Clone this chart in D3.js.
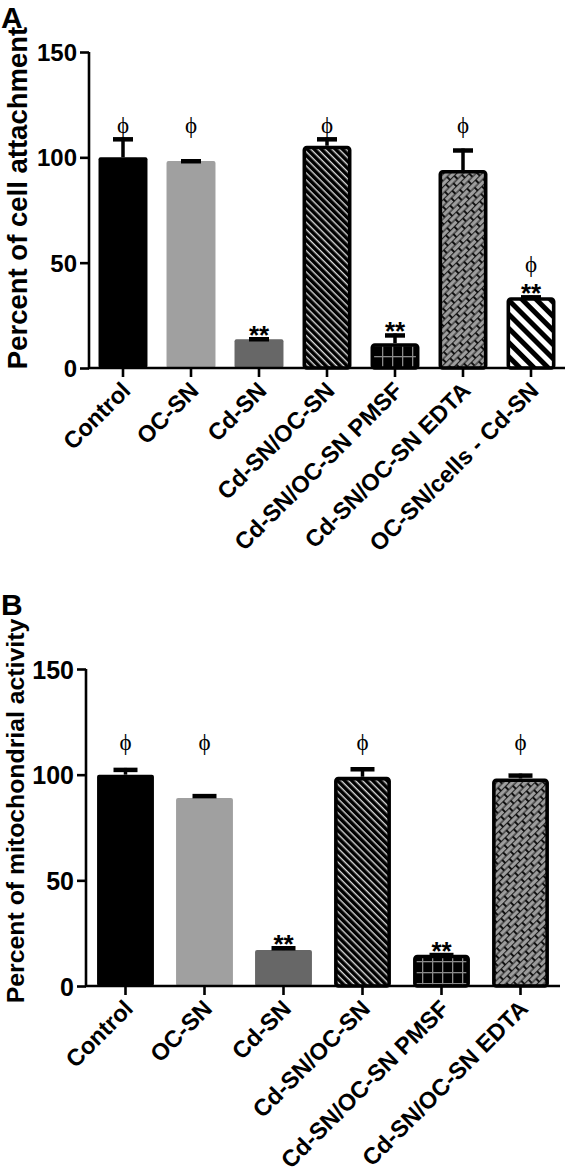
<!DOCTYPE html>
<html>
<head>
<meta charset="utf-8">
<script src="https://cdn.jsdelivr.net/npm/d3@7"></script>
<style>
  html, body { margin: 0; padding: 0; background: #fff; }
  svg { display: block; }
  text { font-family: "Liberation Sans", Arial, sans-serif; }
</style>
</head>
<body>
<svg id="chart" width="566" height="1173"></svg>
<script>
// ---------- data ----------
const categoriesA = ["Control", "OC-SN", "Cd-SN", "Cd-SN/OC-SN", "Cd-SN/OC-SN PMSF", "Cd-SN/OC-SN EDTA", "OC-SN/cells - Cd-SN"];
const valuesA = [100, 98.3, 13.6, 105.5, 11.8, 94, 33.6];
const errorsA = [9.5, 0.8, 1.0, 4.0, 4.6, 10.2, 0.9];
const phiA = [true, true, false, true, false, true, true];
const starsA = [false, false, true, false, true, false, true];

const categoriesB = ["Control", "OC-SN", "Cd-SN", "Cd-SN/OC-SN", "Cd-SN/OC-SN PMSF", "Cd-SN/OC-SN EDTA"];
const valuesB = [100, 89, 17, 99, 14.8, 98.2];
const errorsB = [3.2, 1.8, 1.8, 4.5, 0.8, 2.3];
const phiB = [true, true, false, true, false, true];
const starsB = [false, false, true, false, true, false];

const yTicks = [0, 50, 100, 150];
const yTitleA = "Percent of cell attachment";
const yTitleB = "Percent of mitochondrial activity";
const phiLevel = 115;

// ---------- styles ----------
const fillByCat = {
  "Control": {fill: "#000", stroke: null},
  "OC-SN": {fill: "#a0a0a0", stroke: null},
  "Cd-SN": {fill: "#676767", stroke: null},
  "Cd-SN/OC-SN": {fill: "url(#pDiag)", stroke: "#000"},
  "Cd-SN/OC-SN PMSF": {fill: "url(#pGrid)", stroke: "#000"},
  "Cd-SN/OC-SN EDTA": {fill: "url(#pBrick)", stroke: "#000"},
  "OC-SN/cells - Cd-SN": {fill: "url(#pStripe)", stroke: "#000"}
};

const svg = d3.select("#chart");
const defs = svg.append("defs");

// diagonal thin white lines on black
const pDiag = defs.append("pattern").attr("id", "pDiag").attr("patternUnits", "userSpaceOnUse")
  .attr("width", 5).attr("height", 5).attr("patternTransform", "rotate(45)");
pDiag.append("rect").attr("width", 5).attr("height", 5).attr("fill", "#000");
pDiag.append("rect").attr("y", 0).attr("width", 5).attr("height", 1.4).attr("fill", "#d8d8d8");

// grid gray lines on black
const pGrid = defs.append("pattern").attr("id", "pGrid").attr("patternUnits", "userSpaceOnUse")
  .attr("width", 10).attr("height", 11).attr("x", 2).attr("y", 4);
pGrid.append("rect").attr("width", 10).attr("height", 11).attr("fill", "#000");
pGrid.append("rect").attr("x", 0).attr("width", 1.3).attr("height", 11).attr("fill", "#8a8a8a");
pGrid.append("rect").attr("y", 0).attr("width", 10).attr("height", 1.3).attr("fill", "#8a8a8a");

// brick-like gray dashes on black
const pBrick = defs.append("pattern").attr("id", "pBrick").attr("patternUnits", "userSpaceOnUse")
  .attr("width", 12).attr("height", 9).attr("patternTransform", "rotate(-45)");
pBrick.append("rect").attr("width", 12).attr("height", 9).attr("fill", "#111");
pBrick.append("rect").attr("x", 0).attr("y", 0.6).attr("width", 10).attr("height", 3.5).attr("fill", "#9e9e9e");
pBrick.append("rect").attr("x", 6).attr("y", 5.1).attr("width", 6).attr("height", 3.5).attr("fill", "#9e9e9e");
pBrick.append("rect").attr("x", 0).attr("y", 5.1).attr("width", 4).attr("height", 3.5).attr("fill", "#9e9e9e");

// thick black stripes on white
const pStripe = defs.append("pattern").attr("id", "pStripe").attr("patternUnits", "userSpaceOnUse")
  .attr("width", 10).attr("height", 10).attr("patternTransform", "rotate(45)");
pStripe.append("rect").attr("width", 10).attr("height", 10).attr("fill", "#fff");
pStripe.append("rect").attr("y", 0).attr("width", 10).attr("height", 5).attr("fill", "#000");

function panel(cfg) {
  const g = svg.append("g");
  const x = d3.scaleBand().domain(cfg.categories).range([cfg.x0, cfg.x1])
    .paddingInner(0.28).paddingOuter(0.14);
  const y = d3.scaleLinear().domain([0, 150]).range([cfg.yBottom, cfg.yTop]);
  const data = cfg.categories.map((c, i) => ({c, v: cfg.values[i], e: cfg.errors[i], phi: cfg.phi[i], star: cfg.stars[i]}));

  // bars
  const sw = 3.6;
  g.selectAll("rect.bar").data(data).join("rect").attr("class", "bar")
    .each(function(d) {
      const st = fillByCat[d.c];
      const sel = d3.select(this);
      if (st.stroke) {
        sel.attr("x", x(d.c) + sw / 2).attr("width", x.bandwidth() - sw)
          .attr("y", y(d.v) + sw / 2).attr("height", y(0) - y(d.v) - sw / 2)
          .attr("fill", st.fill).attr("stroke", st.stroke).attr("stroke-width", sw)
          .attr("rx", 2.5);
      } else {
        sel.attr("x", x(d.c)).attr("width", x.bandwidth())
          .attr("y", y(d.v)).attr("height", y(0) - y(d.v))
          .attr("fill", st.fill).attr("rx", 2);
      }
    });

  // error bars
  const capW = cfg.capW;
  g.selectAll("line.stem").data(data).join("line").attr("class", "stem")
    .attr("x1", d => x(d.c) + x.bandwidth() / 2).attr("x2", d => x(d.c) + x.bandwidth() / 2)
    .attr("y1", d => y(d.v)).attr("y2", d => y(d.v + d.e))
    .attr("stroke", "#000").attr("stroke-width", 3.5);
  g.selectAll("line.cap").data(data).join("line").attr("class", "cap")
    .attr("x1", d => x(d.c) + x.bandwidth() / 2 - capW / 2).attr("x2", d => x(d.c) + x.bandwidth() / 2 + capW / 2)
    .attr("y1", d => y(d.v + d.e) + 2).attr("y2", d => y(d.v + d.e) + 2)
    .attr("stroke", "#000").attr("stroke-width", 4.5);

  // stars
  const starBase = d => y(d.v + d.e) + 7;
  g.selectAll("text.star").data(data.filter(d => d.star)).join("text").attr("class", "star")
    .attr("x", d => x(d.c) + x.bandwidth() / 2).attr("y", starBase)
    .attr("text-anchor", "middle").attr("font-size", 26).attr("font-weight", "bold").attr("fill", "#000")
    .text("**");
  // phi
  g.selectAll("text.phi").data(data.filter(d => d.phi)).join("text").attr("class", "phi")
    .attr("x", d => x(d.c) + x.bandwidth() / 2)
    .attr("y", d => d.star ? starBase(d) - 30 : y(phiLevel) + 7)
    .attr("text-anchor", "middle").attr("font-size", 23).attr("fill", "#000")
    .style("font-family", "'Liberation Serif', 'DejaVu Serif', serif")
    .text("ϕ");

  // y axis
  const yAxis = g.append("g").attr("transform", `translate(${cfg.x0},0)`)
    .call(d3.axisLeft(y).tickValues(yTicks).tickSize(9).tickPadding(3).tickFormat(d3.format("d")));
  yAxis.select(".domain").attr("stroke", "#000").attr("stroke-width", 2.6).attr("d", `M0,${cfg.yTop}V${cfg.yBottom}`);
  yAxis.selectAll(".tick line").attr("stroke-width", 2.6);
  yAxis.selectAll(".tick text").attr("font-size", cfg.tickFont).attr("font-weight", "bold")
    .attr("fill", "#000").style("font-family", "'Liberation Sans', Arial, sans-serif").attr("dy", "0.36em");

  // x axis
  const xAxis = g.append("g").attr("transform", `translate(0,${cfg.yBottom})`)
    .call(d3.axisBottom(x).tickSize(9).tickPadding(0));
  xAxis.select(".domain").attr("stroke", "#000").attr("stroke-width", 2.6).attr("d", `M${cfg.x0 - 1},0H${cfg.x1}`);
  xAxis.selectAll(".tick line").attr("stroke-width", 2.6);
  xAxis.selectAll(".tick text")
    .attr("font-size", cfg.xFont).attr("font-weight", "bold").attr("fill", "#000")
    .style("font-family", "'Liberation Sans', Arial, sans-serif")
    .attr("text-anchor", "end").attr("dy", null)
    .attr("transform", "translate(9,24) rotate(-45)").attr("x", 0).attr("y", 0);

  // y title
  g.append("text")
    .attr("transform", `translate(${cfg.titleX},${(cfg.titleY)}) rotate(-90)`)
    .attr("text-anchor", "middle").attr("font-size", cfg.titleFont).attr("font-weight", "bold").attr("fill", "#000")
    .text(cfg.title);

  // panel letter
  g.append("text").attr("x", 1).attr("y", cfg.letterY).attr("font-size", 30).attr("font-weight", "bold")
    .text(cfg.letter);
}

panel({categories: categoriesA, values: valuesA, errors: errorsA, phi: phiA, stars: starsA,
  x0: 89, x1: 565, yBottom: 368, yTop: 52, capW: 20, tickFont: 24, xFont: 23.5,
  title: yTitleA, titleX: 27, titleY: 198, titleFont: 27.5, letter: "A", letterY: 28});

panel({categories: categoriesB, values: valuesB, errors: errorsB, phi: phiB, stars: starsB,
  x0: 86, x1: 560, yBottom: 986, yTop: 669, capW: 24, tickFont: 25, xFont: 23.5,
  title: yTitleB, titleX: 24, titleY: 811, titleFont: 24.8, letter: "B", letterY: 615});
</script>
</body>
</html>
